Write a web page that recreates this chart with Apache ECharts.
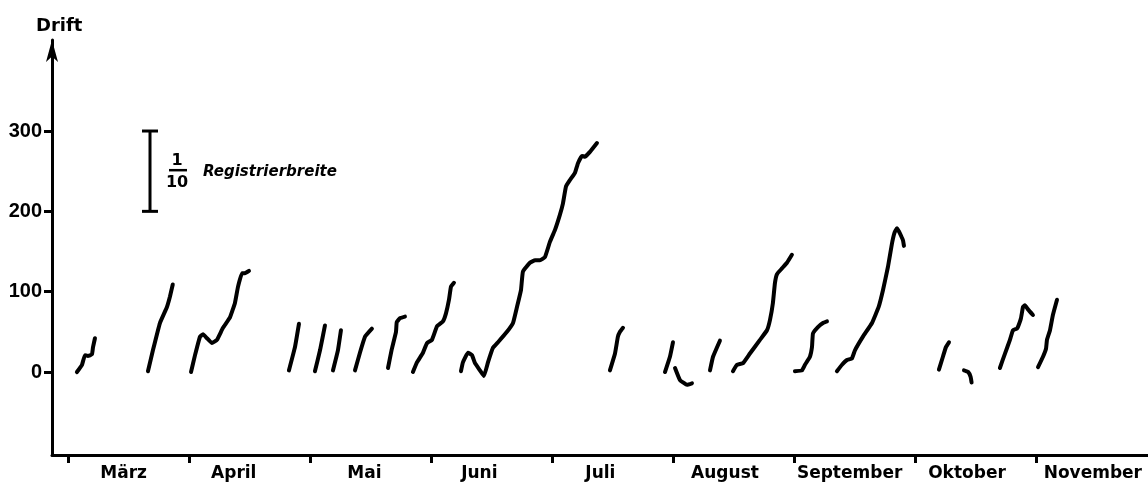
<!DOCTYPE html>
<html>
<head>
<meta charset="utf-8">
<script src="https://cdn.jsdelivr.net/npm/echarts@6/dist/echarts.min.js"></script>
<style>
html,body{margin:0;padding:0;background:#fff;}
#chart{width:1148px;height:486px;}
</style>
</head>
<body>
<div id="chart"></div>
<script>
// x unit: months since 1 March (tick at each month start), y unit: drift
const months = ['März','April','Mai','Juni','Juli','August','September','Oktober','November'];
const monthTicks = [0,1,2,3,4,5,6,7,8];
const monthLabelPos = [0.46,1.37,2.45,3.40,4.40,5.43,6.46,7.43,8.47];
const yTicks = [0,100,200,300];

const maerz1 = [[0.074,0],[0.116,9],[0.140,21],[0.165,20],[0.198,22],[0.207,31],[0.223,42]];
const maerz2 = [[0.661,1],[0.702,27],[0.760,61],[0.818,81],[0.843,94],[0.866,109]];
const april1 = [[1.017,0],[1.050,21],[1.091,44],[1.116,47],[1.149,42],[1.190,36],[1.231,40],[1.281,55],[1.339,68],[1.380,86],[1.405,106],[1.438,123],[1.463,123],[1.496,126]];
const mai1 = [[1.826,2],[1.876,31],[1.909,60]];
const mai2 = [[2.041,1],[2.083,27],[2.124,58]];
const mai3 = [[2.190,2],[2.231,27],[2.256,52]];
const mai4 = [[2.372,2],[2.413,24],[2.455,44],[2.512,54]];
const mai5 = [[2.645,5],[2.674,27],[2.711,50],[2.717,62],[2.744,67],[2.785,69]];
const mai6 = [[2.851,0],[2.884,12],[2.934,24],[2.967,36],[3.008,40],[3.050,57],[3.099,63],[3.124,73],[3.149,90],[3.165,106],[3.190,111]];
const juni1 = [[3.248,1],[3.264,12],[3.306,24],[3.339,21],[3.364,11],[3.405,2],[3.438,-5],[3.471,12],[3.512,30],[3.554,37],[3.628,50],[3.678,61],[3.711,81],[3.744,102],[3.760,125],[3.818,136],[3.860,139],[3.901,139],[3.942,143],[3.983,162],[4.025,177],[4.066,196],[4.091,210],[4.116,231],[4.149,239],[4.190,248],[4.215,260],[4.248,269],[4.273,268],[4.314,274],[4.372,285]];
const juli1 = [[4.479,2],[4.521,23],[4.545,44],[4.562,50],[4.587,55]];
const august1 = [[4.934,0],[4.975,19],[5.000,37]];
const august2 = [[5.017,5],[5.058,-10],[5.116,-16],[5.157,-14]];
const august3 = [[5.306,2],[5.331,19],[5.388,39]];
const august4 = [[5.496,1],[5.529,9],[5.579,11],[5.636,23],[5.719,40],[5.777,52],[5.802,65],[5.826,86],[5.843,111],[5.860,122],[5.901,129],[5.942,136],[5.983,146]];
const september1 = [[6.008,1],[6.066,2],[6.091,9],[6.132,19],[6.149,31],[6.157,48],[6.198,56],[6.240,61],[6.273,63]];
const september2 = [[6.355,1],[6.397,9],[6.438,15],[6.479,17],[6.504,27],[6.570,44],[6.645,61],[6.700,81],[6.736,102],[6.777,131],[6.810,160],[6.830,173],[6.851,179],[6.868,175],[6.884,170],[6.901,164],[6.909,157]];
const oktober1 = [[7.198,3],[7.231,19],[7.256,31],[7.281,37]];
const oktober2 = [[7.405,2],[7.440,0],[7.460,-6],[7.468,-13]];
const oktober3 = [[7.702,5],[7.744,23],[7.785,40],[7.810,52],[7.843,54],[7.851,56],[7.876,67],[7.893,81],[7.909,83],[7.934,78],[7.975,71]];
const november1 = [[8.017,6],[8.058,19],[8.083,29],[8.091,40],[8.116,52],[8.140,71],[8.174,90]];

const segments = [maerz1,maerz2,april1,mai1,mai2,mai3,mai4,mai5,mai6,juni1,juli1,august1,august2,august3,august4,september1,september2,oktober1,oktober2,oktober3,november1];

// scale bar: 1/10 of the recording width = 100 drift units
const scaleBar = [[0.678,200,300]];

const chart = echarts.init(document.getElementById('chart'), null, {renderer:'canvas'});

const lineSeries = segments.map(seg => ({
  type:'line',
  data: seg,
  showSymbol:false,
  smooth:0.1,
  silent:true,
  lineStyle:{color:'#000', width:4, cap:'round', join:'round'}
}));

const scaleSeries = {
  type:'custom',
  data: scaleBar,
  silent:true,
  renderItem: function(params, api){
    const x = api.value(0);
    const p1 = api.coord([x, api.value(1)]);
    const p2 = api.coord([x, api.value(2)]);
    const cx = p1[0];
    const my = (p1[1]+p2[1])/2;
    const st = {stroke:'#000', lineWidth:3};
    return {
      type:'group',
      children:[
        {type:'line', shape:{x1:cx,y1:p1[1],x2:cx,y2:p2[1]}, style:st},
        {type:'line', shape:{x1:cx-8,y1:p1[1],x2:cx+8,y2:p1[1]}, style:st},
        {type:'line', shape:{x1:cx-8,y1:p2[1],x2:cx+8,y2:p2[1]}, style:st},
        {type:'text', style:{text:'1', x:cx+27, y:my-10, align:'center', verticalAlign:'middle', font:'bold 16px "DejaVu Sans"', fill:'#000'}},
        {type:'line', shape:{x1:cx+19,y1:my-1,x2:cx+37,y2:my-1}, style:{stroke:'#000', lineWidth:2.5}},
        {type:'text', style:{text:'10', x:cx+27, y:my+12, align:'center', verticalAlign:'middle', font:'bold 16px "DejaVu Sans"', fill:'#000'}},
        {type:'text', style:{text:'Registrierbreite', x:cx+53, y:my+1, align:'left', verticalAlign:'middle', font:'italic bold 15px "DejaVu Sans"', fill:'#000'}}
      ]
    };
  }
};

chart.setOption({
  animation:false,
  backgroundColor:'#fff',
  grid:{left:52, right:0, top:40, bottom:31, containLabel:false},
  title:{text:'Drift', left:31, top:12, textStyle:{fontFamily:'DejaVu Sans', fontWeight:'bold', fontSize:18, color:'#000'}},
  xAxis:{
    type:'value',
    min:-0.132, max:8.926,
    splitLine:{show:false},
    axisLine:{show:true, onZero:false, lineStyle:{color:'#000', width:3}},
    axisTick:{show:true, inside:false, length:8, customValues:monthTicks, lineStyle:{color:'#000', width:3}},
    axisLabel:{
      show:true, margin:10, customValues:monthLabelPos,
      fontFamily:'DejaVu Sans', fontWeight:'bold', fontSize:17, color:'#000',
      formatter:function(v){
        let best=0, d=1e9;
        monthLabelPos.forEach((p,i)=>{ if(Math.abs(p-v)<d){d=Math.abs(p-v);best=i;} });
        return months[best];
      }
    }
  },
  yAxis:{
    type:'value',
    min:-103.3, max:413.3,
    splitLine:{show:false},
    axisLine:{show:true, onZero:false, symbol:['none','arrow'], symbolSize:[9,22], lineStyle:{color:'#000', width:3}},
    axisTick:{show:true, inside:false, length:8, customValues:yTicks, lineStyle:{color:'#000', width:3}},
    axisLabel:{show:true, margin:10, customValues:yTicks, fontFamily:'Liberation Sans', fontWeight:'bold', fontSize:20, color:'#000'}
  },
  series: lineSeries.concat([scaleSeries])
});
</script>
</body>
</html>
